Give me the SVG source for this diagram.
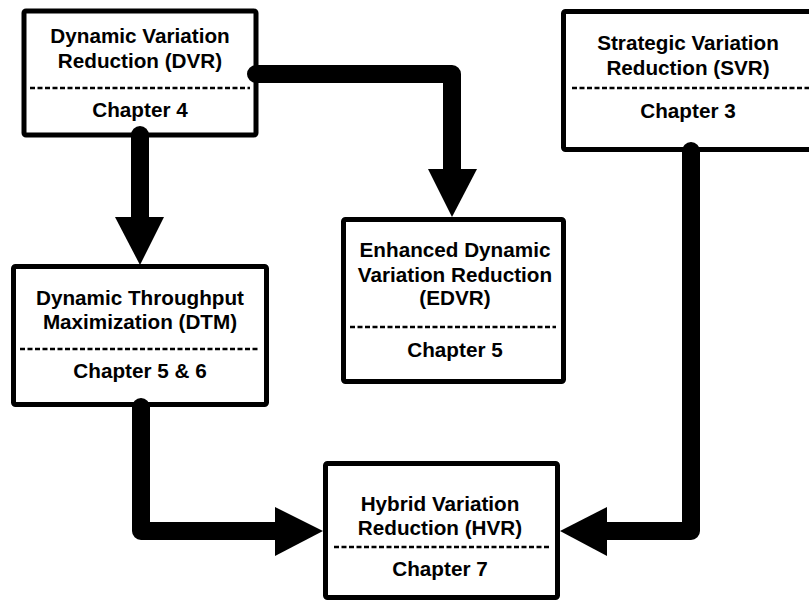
<svg xmlns="http://www.w3.org/2000/svg" width="809" height="600" viewBox="0 0 809 600">
  <style>
    .box { fill: #ffffff; stroke: #000000; stroke-width: 5; }
    .sep { stroke: #000000; stroke-width: 2.5; stroke-dasharray: 5 2.5; fill: none; }
    .lbl { font-family: "Liberation Sans", Arial, sans-serif; font-weight: bold; font-size: 20.7px; fill: #000000; text-anchor: middle; }
    .wire { fill: none; stroke: #000000; stroke-width: 18; stroke-linecap: round; stroke-linejoin: round; }
    .head { fill: #000000; }
  </style>
  <rect width="809" height="600" fill="#ffffff"/>

  <!-- boxes -->
  <g id="dvr">
    <rect class="box" x="24" y="11" width="232" height="124" rx="2"/>
    <text class="lbl" x="140" y="43">Dynamic Variation</text>
    <text class="lbl" x="140" y="68">Reduction (DVR)</text>
    <line class="sep" x1="30" y1="88" x2="250" y2="88"/>
    <text class="lbl" x="140" y="117">Chapter 4</text>
  </g>

  <g id="svr">
    <rect class="box" x="563.5" y="11.5" width="252" height="138" rx="2"/>
    <text class="lbl" x="688" y="50">Strategic Variation</text>
    <text class="lbl" x="688" y="75">Reduction (SVR)</text>
    <line class="sep" x1="572" y1="88" x2="809" y2="88"/>
    <text class="lbl" x="688" y="118">Chapter 3</text>
  </g>

  <g id="edvr">
    <rect class="box" x="343.5" y="219.5" width="220" height="162" rx="2"/>
    <text class="lbl" x="455" y="257">Enhanced Dynamic</text>
    <text class="lbl" x="455" y="282">Variation Reduction</text>
    <text class="lbl" x="455" y="305">(EDVR)</text>
    <line class="sep" x1="350" y1="327" x2="556" y2="327"/>
    <text class="lbl" x="455" y="357">Chapter 5</text>
  </g>

  <g id="dtm">
    <rect class="box" x="13.5" y="266.5" width="253" height="138" rx="2"/>
    <text class="lbl" x="140" y="305">Dynamic Throughput</text>
    <text class="lbl" x="140" y="329">Maximization (DTM)</text>
    <line class="sep" x1="20" y1="349" x2="260" y2="349"/>
    <text class="lbl" x="140" y="378">Chapter 5 &amp; 6</text>
  </g>

  <g id="hvr">
    <rect class="box" x="325.5" y="463.5" width="232" height="134" rx="2"/>
    <text class="lbl" x="440" y="511">Hybrid Variation</text>
    <text class="lbl" x="440" y="535">Reduction (HVR)</text>
    <line class="sep" x1="334" y1="547" x2="550" y2="547"/>
    <text class="lbl" x="440" y="576">Chapter 7</text>
  </g>

  <!-- connectors -->
  <g id="connectors">
    <path class="wire" d="M140 135 V217"/>
    <polygon class="head" points="115,217 164,217 140,265"/>

    <path class="wire" d="M256 74 H452 V169"/>
    <polygon class="head" points="428,169 477,169 452,217"/>

    <path class="wire" d="M141 407 V531 H275"/>
    <polygon class="head" points="275,507 275,556 323,531"/>

    <path class="wire" d="M691 151 V531 H607"/>
    <polygon class="head" points="607,507 607,556 560,531"/>
  </g>
</svg>
